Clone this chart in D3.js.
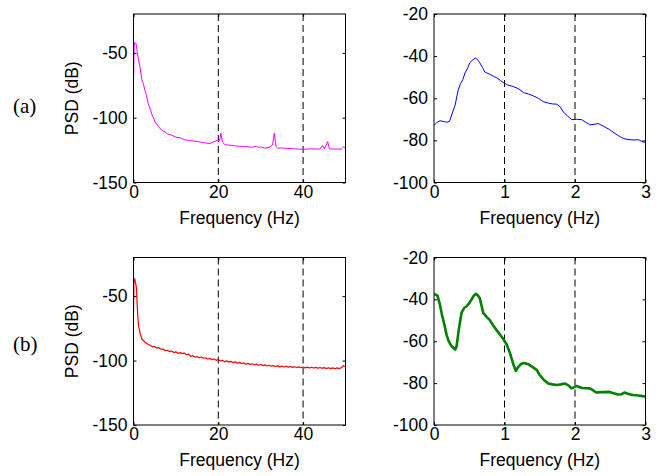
<!DOCTYPE html>
<html>
<head>
<meta charset="utf-8">
<script src="https://cdn.jsdelivr.net/npm/d3@7"></script>
<style>
  html, body { margin: 0; padding: 0; background: #fff; }
  svg text { font-family: "Liberation Sans", Arial, sans-serif; }
</style>
</head>
<body>
<div id="chart"></div>
<script>
// ---- data ----
// (a) left: full band PSD, magenta
const freqA1 = [0, 0.15, 0.3, 0.5, 0.7, 0.9, 1.2, 1.5, 1.8, 2.0,
  2.3, 2.7, 3.0, 3.3, 3.6, 4.0, 4.4, 4.8, 5.2, 5.6,
  6.0, 6.5, 7.0, 7.5, 8.0, 9, 10, 11, 12, 13,
  14, 15, 16, 17, 18, 19, 19.8, 20.3, 20.6, 21.0,
  21.5, 22, 23, 24, 25, 26, 27, 28, 29, 29.5,
  30, 31, 32, 32.8, 33.2, 33.6, 34, 35, 36, 37,
  38, 39, 40, 41, 42, 43, 44, 44.6, 45, 45.8,
  46.2, 47, 48, 49, 49.6, 50];
const psdA1 = [-72, -45, -42, -42.5, -44, -50, -55.5, -60, -67, -71,
  -73.5, -79, -82, -87, -90.5, -94, -98, -101, -104, -105.5,
  -107.5, -109, -110.5, -111, -112.5, -113.5, -115, -115.5, -117, -117.5,
  -118, -118.3, -119, -119.5, -120, -118.5, -117.5, -118, -112, -119,
  -120.5, -121, -121.3, -121.8, -122, -122.3, -122.5, -122.8, -122, -123,
  -122.5, -123.5, -123, -121, -112, -122, -123.5, -123.4, -123.6, -123.8,
  -124, -124.3, -124.3, -124.2, -124, -124.2, -124.2, -121.5, -124, -118.5,
  -124, -124.2, -124.2, -124.3, -122.5, -123.5];

// (a) right: low band PSD, blue
const freqA2 = [0, 0.04, 0.085, 0.13, 0.18, 0.22, 0.26, 0.3, 0.34, 0.37,
  0.41, 0.44, 0.48, 0.51, 0.55, 0.59, 0.62, 0.65, 0.69, 0.72,
  0.75, 0.8, 0.84, 0.9, 0.94, 0.98, 1.05, 1.12, 1.2, 1.27,
  1.34, 1.41, 1.48, 1.55, 1.62, 1.68, 1.74, 1.79, 1.83, 1.89,
  1.95, 2.02, 2.09, 2.15, 2.21, 2.27, 2.33, 2.4, 2.49, 2.57,
  2.66, 2.72, 2.78, 2.84, 2.9, 2.95, 3.0];
const psdA2 = [-73, -71.5, -70.7, -71, -71.4, -71, -67, -63.2, -56.5, -53.6,
  -51, -48, -45.5, -43, -41.8, -40.8, -41.8, -43.2, -45.5, -47.5,
  -48, -48.8, -49.5, -50.5, -51.5, -52.5, -53.8, -54.4, -55.5, -57.3,
  -58, -58.9, -60, -61.6, -62.3, -62.7, -62.8, -64, -66.4, -68.3,
  -70.1, -70, -70.1, -71.3, -72.6, -72.4, -72, -73.2, -74.9, -76.8,
  -78.7, -79.4, -79.7, -79.8, -79.7, -80.5, -81.1];

// (b) left: full band PSD, red
const freqB1 = [0, 0.1, 0.3, 0.5, 0.7, 0.85, 1.0, 1.2, 1.5,
  2, 2.5, 3, 3.5, 4, 4.5, 5, 5.5, 6, 6.5,
  7, 7.5, 8, 8.5, 9, 9.5, 10, 10.5, 11, 11.5,
  12, 12.5, 13, 13.5, 14, 14.5, 15, 15.5, 16, 16.5,
  17, 17.5, 18, 18.5, 19, 19.5, 20, 20.5, 21, 21.5,
  22, 22.5, 23, 23.5, 24, 24.5, 25, 25.5, 26, 26.5,
  27, 27.5, 28, 28.5, 29, 29.5, 30, 30.5, 31, 31.5,
  32, 32.5, 33, 33.5, 34, 34.5, 35, 35.5, 36, 36.5,
  37, 37.5, 38, 38.5, 39, 39.5, 40, 40.5, 41, 41.5,
  42, 42.5, 43, 43.5, 44, 44.5, 45, 45.5, 46, 46.5,
  47, 47.5, 48, 48.5, 49, 49.5, 50];
const psdB1 = [-63, -38, -36.5, -40, -44, -55, -65, -73, -78,
  -83.5, -85, -86.5, -87.5, -88.2, -89.5, -89, -90.3, -90, -91.2,
  -91, -92.3, -92, -93, -92.6, -93.8, -93.2, -94.3, -93.8, -94.6,
  -94.2, -95.5, -95, -96.8, -96.2, -97.3, -96.8, -97.8, -97.2, -98.2,
  -97.8, -98.8, -98.3, -99.3, -98.8, -99.8, -99.2, -100.3, -99.8, -101,
  -100.2, -101.2, -100.6, -101.6, -101, -102, -101.4, -102.3, -101.8, -102.8,
  -102.2, -103, -102.5, -103.3, -102.8, -103.6, -103, -103.9, -103.3, -104.2,
  -103.6, -104.4, -103.9, -104.6, -104.1, -104.9, -104.2, -105, -104.4, -105.1,
  -104.6, -105.3, -104.8, -105.4, -104.9, -105.6, -105, -105.7, -105.1, -105.8,
  -105.2, -105.8, -105.3, -106, -105.4, -106, -105.5, -106.2, -105.6, -106.2,
  -105.7, -106.3, -105.7, -106.2, -105.6, -104, -104.8];

// (b) right: low band PSD, green
const freqB2 = [0, 0.05, 0.08, 0.11, 0.15, 0.18, 0.21, 0.24, 0.27, 0.3,
  0.32, 0.35, 0.39, 0.43, 0.46, 0.5, 0.53, 0.56, 0.59, 0.62,
  0.65, 0.7, 0.75, 0.79, 0.84, 0.89, 0.94, 0.98, 1.03, 1.08,
  1.12, 1.16, 1.19, 1.23, 1.27, 1.34, 1.41, 1.46, 1.5, 1.56,
  1.62, 1.68, 1.74, 1.8, 1.86, 1.91, 1.95, 2.02, 2.1, 2.21,
  2.26, 2.3, 2.4, 2.49, 2.55, 2.61, 2.66, 2.7, 2.76, 2.82,
  2.9, 2.96, 3.0];
const psdB2 = [-37.4, -38.2, -42, -46.9, -52.5, -57.2, -60, -62, -63, -64,
  -62.5, -54.8, -46.5, -44, -43.4, -41.8, -40.2, -38.5, -37.4, -38,
  -39.5, -46.6, -48.5, -49.8, -52.5, -54.8, -57, -58.8, -61.5, -65.9,
  -70.5, -74.2, -72.5, -71, -70.4, -71, -72.6, -73.8, -76.2, -78.5,
  -80.2, -80.6, -80.9, -80.6, -80.2, -81.2, -82.5, -81.4, -82.3, -82.5,
  -83.5, -84.5, -84.3, -84.2, -84.8, -85.4, -85.3, -84.5, -85.2, -85.7,
  -85.9, -86.2, -86.5];

// axis ticks / guide lines
const fullTicksX = [0, 20, 40];
const fullTicksY = [-150, -100, -50];
const fullDashes = [20, 40];
const lowTicksX = [0, 1, 2, 3];
const lowTicksY = [-100, -80, -60, -40, -20];
const lowDashes = [1, 2];
const rowLabels = ["(a)", "(b)"];

// ---- drawing ----
const width = 658, height = 476;
const svg = d3.select("#chart").append("svg")
  .attr("width", width)
  .attr("height", height);

const FS = 17.5;
// plain hyphen minus like matlab, no "0.0"
const fmt = d => String(d);

function drawPanel(p) {
  const x = d3.scaleLinear().domain(p.xDomain).range([p.x0, p.x1]);
  const y = d3.scaleLinear().domain(p.yDomain).range([p.y1, p.y0]);
  const g = svg.append("g");

  // clip for curve
  g.append("clipPath").attr("id", p.id)
    .append("rect")
    .attr("x", p.x0).attr("y", p.y0)
    .attr("width", p.x1 - p.x0).attr("height", p.y1 - p.y0);

  // dashed guide lines
  g.selectAll(".dash").data(p.dashes).join("line")
    .attr("x1", d => x(d)).attr("x2", d => x(d))
    .attr("y1", p.y0).attr("y2", p.y1)
    .attr("stroke", "#000")
    .attr("stroke-width", 1)
    .attr("stroke-dasharray", "7,4");

  // curve
  const line = d3.line().x(d => x(d[0])).y(d => y(d[1]));
  g.append("path")
    .datum(d3.zip(p.freq, p.psd))
    .attr("clip-path", `url(#${p.id})`)
    .attr("fill", "none")
    .attr("stroke", p.color)
    .attr("stroke-width", p.lw)
    .attr("stroke-linejoin", "round")
    .attr("d", line);

  // axes: ticks point inward like matlab
  g.append("g").attr("transform", `translate(0,${p.y1})`)
    .call(d3.axisBottom(x).tickValues(p.xTicks).tickFormat(fmt)
      .tickSizeInner(-3).tickSizeOuter(0).tickPadding(3));
  g.append("g").attr("transform", `translate(${p.x0},0)`)
    .call(d3.axisLeft(y).tickValues(p.yTicks).tickFormat(fmt)
      .tickSizeInner(-3).tickSizeOuter(0).tickPadding(6));
  g.append("g").attr("transform", `translate(0,${p.y0})`)
    .call(d3.axisTop(x).tickValues(p.xTicks).tickSizeInner(-3).tickSizeOuter(0).tickFormat(""));
  g.append("g").attr("transform", `translate(${p.x1},0)`)
    .call(d3.axisRight(y).tickValues(p.yTicks).tickSizeInner(-3).tickSizeOuter(0).tickFormat(""));

  g.selectAll(".domain").remove();
  g.selectAll(".tick line").attr("stroke", "#000");
  g.selectAll(".tick text")
    .attr("fill", "#000")
    .style("font-size", FS + "px")
    .style("font-family", '"Liberation Sans", Arial, sans-serif');

  // box
  g.append("rect")
    .attr("x", p.x0).attr("y", p.y0)
    .attr("width", p.x1 - p.x0).attr("height", p.y1 - p.y0)
    .attr("fill", "none").attr("stroke", "#000").attr("stroke-width", 1);

  // x label
  g.append("text")
    .attr("x", (p.x0 + p.x1) / 2)
    .attr("y", p.y1 + 41)
    .attr("text-anchor", "middle")
    .style("font-size", FS + "px")
    .text("Frequency (Hz)");

  // y label only on the left column
  if (p.ylabel) {
    g.append("text")
      .attr("transform", `translate(78,${(p.y0 + p.y1) / 2}) rotate(-90)`)
      .attr("text-anchor", "middle")
      .style("font-size", FS + "px")
      .text(p.ylabel);
  }
}

const rows = [
  { y0: 14, y1: 182.5 },
  { y0: 257.5, y1: 425 }
];
const cols = [
  { x0: 133.5, x1: 345.5 },
  { x0: 434, x1: 645.5 }
];

drawPanel({ id: "c1", ...cols[0], ...rows[0], xDomain: [0, 50], yDomain: [-150, -20],
  xTicks: fullTicksX, yTicks: fullTicksY, dashes: fullDashes,
  freq: freqA1, psd: psdA1, color: "#ff00ff", lw: 1, ylabel: "PSD (dB)" });
drawPanel({ id: "c2", ...cols[1], ...rows[0], xDomain: [0, 3], yDomain: [-100, -20],
  xTicks: lowTicksX, yTicks: lowTicksY, dashes: lowDashes,
  freq: freqA2, psd: psdA2, color: "#0000ff", lw: 1 });
drawPanel({ id: "c3", ...cols[0], ...rows[1], xDomain: [0, 50], yDomain: [-150, -20],
  xTicks: fullTicksX, yTicks: fullTicksY, dashes: fullDashes,
  freq: freqB1, psd: psdB1, color: "#ff0000", lw: 1.2, ylabel: "PSD (dB)" });
drawPanel({ id: "c4", ...cols[1], ...rows[1], xDomain: [0, 3], yDomain: [-100, -20],
  xTicks: lowTicksX, yTicks: lowTicksY, dashes: lowDashes,
  freq: freqB2, psd: psdB2, color: "#008000", lw: 2.6 });

// row labels (a), (b)
svg.selectAll(".rowlab").data(rowLabels).join("text")
  .attr("x", 13)
  .attr("y", (d, i) => i === 0 ? 113 : 351)
  .style("font-family", '"Liberation Serif", "Times New Roman", serif')
  .style("font-size", "21px")
  .text(d => d);
</script>
</body>
</html>
